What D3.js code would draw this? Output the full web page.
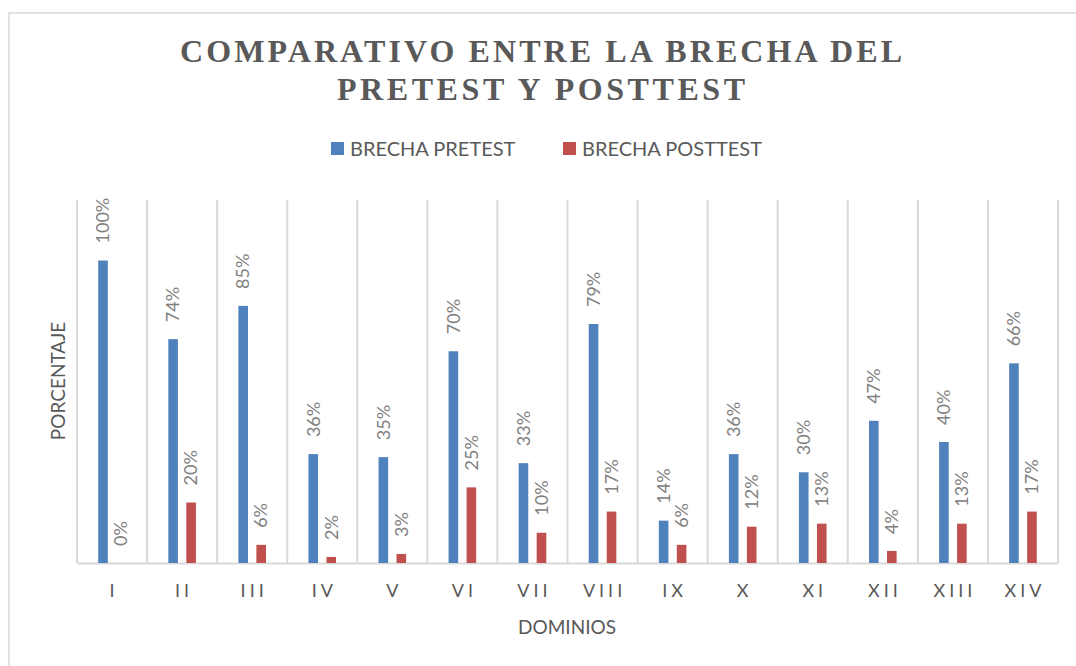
<!DOCTYPE html>
<html>
<head>
<meta charset="utf-8">
<script src="https://cdn.jsdelivr.net/npm/d3@7"></script>
<style>
  body { margin: 0; background: #fff; }
  text { font-family: Lato, "Noto Sans", sans-serif; }
</style>
</head>
<body>
<div id="chart"></div>
<script>
// chart data
const categories = ['I', 'II', 'III', 'IV', 'V', 'VI', 'VII', 'VIII', 'IX', 'X', 'XI', 'XII', 'XIII', 'XIV'];
const pretest = [1.00, 0.74, 0.85, 0.36, 0.35, 0.70, 0.33, 0.79, 0.14, 0.36, 0.30, 0.47, 0.40, 0.66];
const posttest = [0.00, 0.20, 0.06, 0.02, 0.03, 0.25, 0.10, 0.17, 0.06, 0.12, 0.13, 0.04, 0.13, 0.17];
const seriesNames = ['BRECHA PRETEST', 'BRECHA POSTTEST'];
const titleLines = ['COMPARATIVO ENTRE LA BRECHA DEL', 'PRETEST Y POSTTEST'];

const W = 1076, H = 666;
const colors = ['#4f81bd', '#c0504d'];
const plot = { left: 77, right: 1058, top: 200, bottom: 563 };

const svg = d3.select('#chart').append('svg')
  .attr('width', W)
  .attr('height', H);

// outer chart border (right/bottom edges fall outside the picture)
svg.append('rect')
  .attr('x', 9).attr('y', 13)
  .attr('width', 1200).attr('height', 800)
  .attr('fill', '#fff')
  .attr('stroke', '#d9d9d9')
  .attr('stroke-width', 1.5);

// title
const titleWidths = [722, 408];
svg.selectAll('.title')
  .data(titleLines)
  .enter().append('text')
  .attr('class', 'title')
  .attr('x', 541)
  .attr('y', (d, i) => 62 + i * 38)
  .attr('text-anchor', 'middle')
  .attr('textLength', (d, i) => titleWidths[i])
  .attr('lengthAdjust', 'spacing')
  .style('font-family', '"Liberation Serif", "DejaVu Serif", serif')
  .style('font-weight', 'bold')
  .style('font-size', '32px')
  .style('fill', '#595959')
  .text(d => d);

// legend
const legendX = [331, 563];
const legend = svg.selectAll('.legend')
  .data(seriesNames)
  .enter().append('g')
  .attr('class', 'legend')
  .attr('transform', (d, i) => `translate(${legendX[i]},142)`);

legend.append('rect')
  .attr('width', 13).attr('height', 13)
  .attr('fill', (d, i) => colors[i]);

legend.append('text')
  .attr('x', 19)
  .attr('y', 13.5)
  .style('font-size', '20px')
  .style('fill', '#595959')
  .text(d => d);

// scales
const x = d3.scaleBand()
  .domain(categories)
  .range([plot.left, plot.right]);

const y = d3.scaleLinear()
  .domain([0, 1.2])
  .range([plot.bottom, plot.top]);

const bw = x.bandwidth();
const barW = 9.6, gap = 8.4;

// vertical gridlines between categories
const gridX = categories.map(c => x(c)).concat([plot.right]);
svg.selectAll('.grid')
  .data(gridX)
  .enter().append('line')
  .attr('class', 'grid')
  .attr('x1', d => d).attr('x2', d => d)
  .attr('y1', plot.top).attr('y2', plot.bottom)
  .attr('stroke', '#d9d9d9')
  .attr('stroke-width', 2);

// baseline axis
const xAxis = svg.append('g')
  .attr('transform', `translate(0,${plot.bottom})`)
  .call(d3.axisBottom(x).tickSize(0).tickPadding(28));
xAxis.select('.domain').attr('stroke', '#d9d9d9').attr('stroke-width', 2);
xAxis.selectAll('text')
  .style('font-family', 'Lato, "Noto Sans", sans-serif')
  .style('font-size', '18px')
  .style('letter-spacing', '4px')
  .style('fill', '#595959')
  .attr('dy', '0.35em')
  .attr('dx', '2px');

// bars
const series = [pretest, posttest];
const barX = (c, s) => s === 0 ? x(c) + bw / 2 - gap / 2 - barW : x(c) + bw / 2 + gap / 2;

series.forEach((vals, s) => {
  const data = categories.map((c, i) => ({ c, v: vals[i] }));

  svg.selectAll('.bar' + s)
    .data(data)
    .enter().append('rect')
    .attr('class', 'bar' + s)
    .attr('x', d => barX(d.c, s))
    .attr('y', d => y(d.v))
    .attr('width', barW)
    .attr('height', d => y(0) - y(d.v))
    .attr('fill', colors[s]);

  // rotated data labels
  svg.selectAll('.lbl' + s)
    .data(data)
    .enter().append('text')
    .attr('class', 'lbl' + s)
    .attr('transform', d => `translate(${barX(d.c, s) + barW / 2},${y(d.v) - 17}) rotate(-90)`)
    .attr('dy', '0.35em')
    .style('font-size', '18px')
    .style('fill', '#808080')
    .text(d => Math.round(d.v * 100) + '%');
});

// axis titles
svg.append('text')
  .attr('transform', 'translate(58,381) rotate(-90)')
  .attr('text-anchor', 'middle')
  .attr('dy', '0.35em')
  .style('font-size', '19px')
  .style('fill', '#595959')
  .text('PORCENTAJE');

svg.append('text')
  .attr('x', 567)
  .attr('y', 627)
  .attr('text-anchor', 'middle')
  .attr('dy', '0.35em')
  .style('font-size', '19px')
  .style('fill', '#595959')
  .text('DOMINIOS');
</script>
</body>
</html>
